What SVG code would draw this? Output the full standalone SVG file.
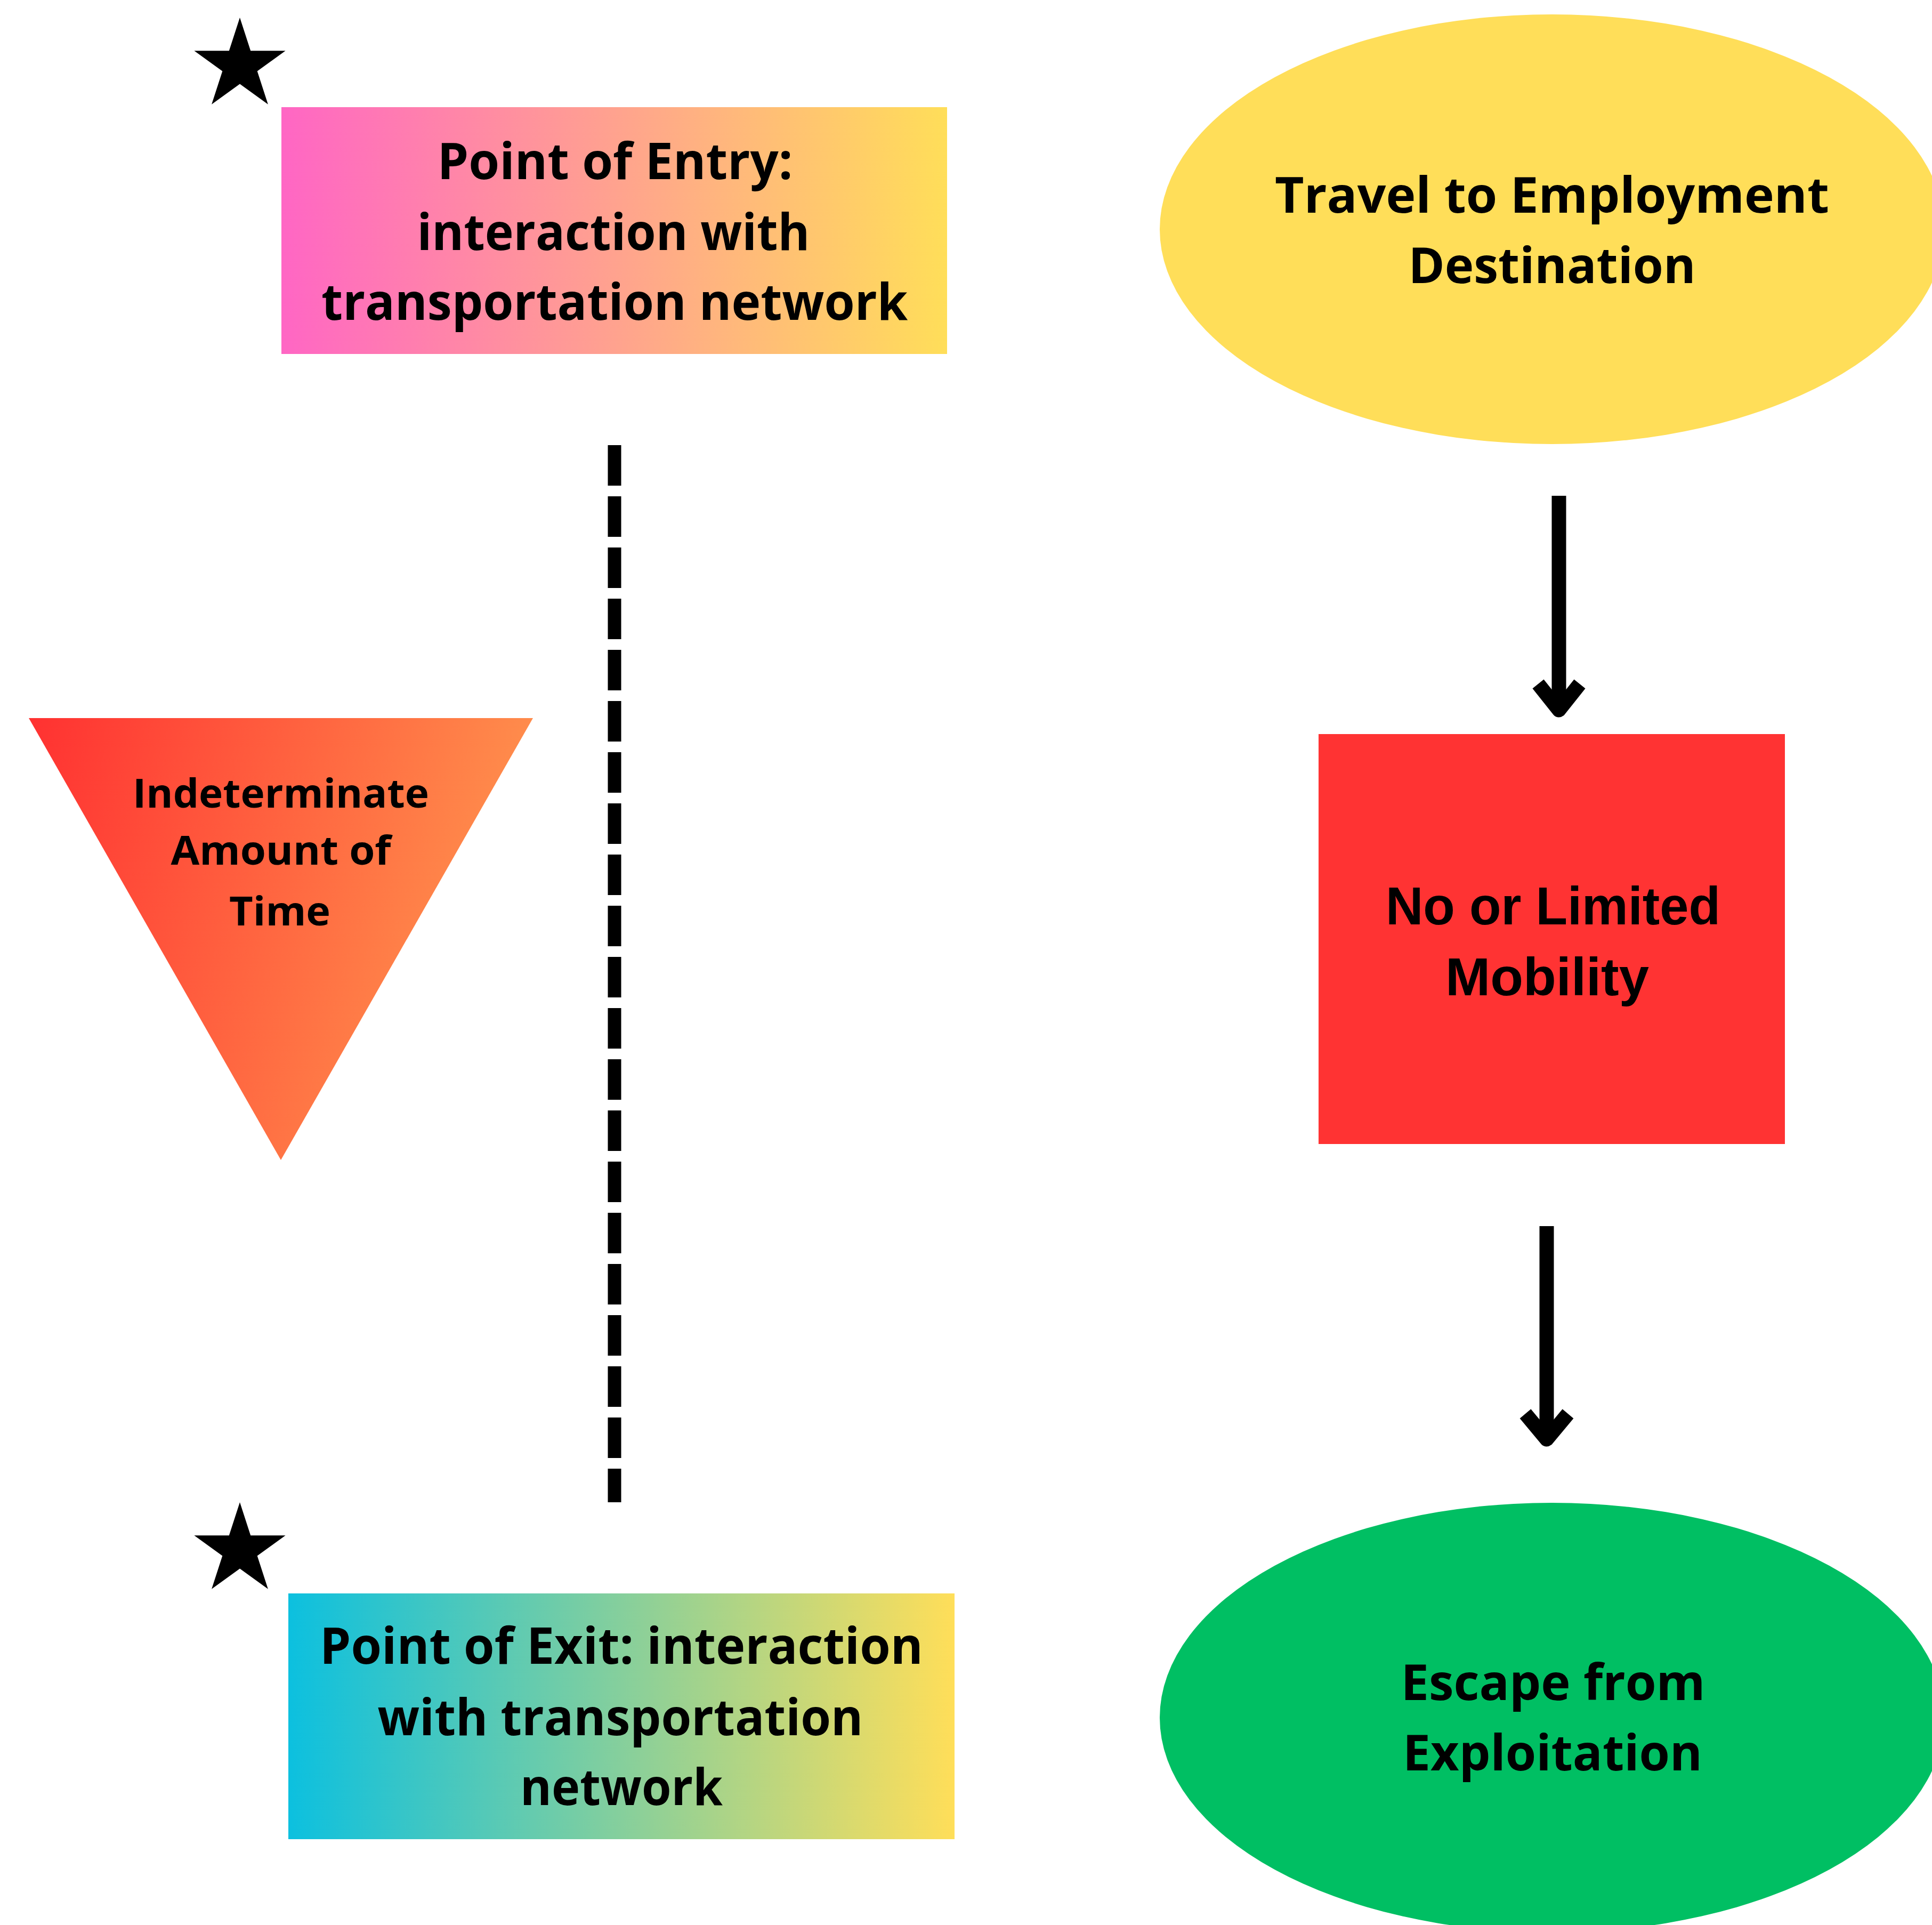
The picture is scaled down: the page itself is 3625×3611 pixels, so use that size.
<svg xmlns="http://www.w3.org/2000/svg" width="3625" height="3611" viewBox="0 0 3625 3611">
  <defs>
    <linearGradient id="gPink" x1="0" y1="0" x2="1" y2="0">
      <stop offset="0" stop-color="#FF66C4"/>
      <stop offset="1" stop-color="#FFDE59"/>
    </linearGradient>
    <linearGradient id="gCyan" x1="0" y1="0" x2="1" y2="0">
      <stop offset="0" stop-color="#0CC0DF"/>
      <stop offset="1" stop-color="#FFDE59"/>
    </linearGradient>
    <linearGradient id="gTri" x1="0" y1="0" x2="1" y2="0.25">
      <stop offset="0" stop-color="#FF3131"/>
      <stop offset="1" stop-color="#FF914D"/>
    </linearGradient>
    <path id="star" d="M0,-90 L20.2,-27.8 L85.6,-27.8 L32.7,10.6 L52.9,72.8 L0,34.4 L-52.9,72.8 L-32.7,10.6 L-85.6,-27.8 L-20.2,-27.8 Z" fill="#000"/>
  </defs>
  <style>
    .t { font-family: "Open Sans", "Liberation Sans", sans-serif; font-weight: 700; fill: #000; text-anchor: middle; }
    .w { font-family: "Liberation Sans", "Arial", sans-serif; font-weight: 700; fill: #000; text-anchor: middle; }
    .dash { stroke: #000; stroke-width: 25; stroke-dasharray: 76 20; fill: none; }
    .arrow { stroke: #000; stroke-width: 27; fill: none; }
  </style>
  <rect width="3625" height="3611" fill="#fff"/>

  <g id="star-entry"><use href="#star" transform="translate(450,123)"/></g>
  <g id="star-exit"><use href="#star" transform="translate(450,2908)"/></g>

  <g id="node-entry">
    <rect x="528" y="201" width="1249" height="463" fill="url(#gPink)"/>
    <text class="t" x="1154" y="336" font-size="95" textLength="667" lengthAdjust="spacingAndGlyphs">Point of Entry:</text>
    <text class="t" x="1151" y="469" font-size="95" textLength="737" lengthAdjust="spacingAndGlyphs">interaction with</text>
    <text class="t" x="1153" y="600" font-size="95" textLength="1100" lengthAdjust="spacingAndGlyphs">transportation network</text>
  </g>

  <g id="node-travel">
    <ellipse cx="2912" cy="430" rx="736" ry="403" fill="#FFDE59"/>
    <text class="t" x="2912" y="399" font-size="94" textLength="1040" lengthAdjust="spacingAndGlyphs">Travel to Employment</text>
    <text class="t" x="2912" y="531" font-size="94" textLength="539" lengthAdjust="spacingAndGlyphs">Destination</text>
  </g>

  <g id="node-time">
    <polygon points="54,1347 1000,1347 527,2176" fill="url(#gTri)"/>
    <text class="t" x="527" y="1515" font-size="76" textLength="556" lengthAdjust="spacingAndGlyphs">Indeterminate</text>
    <text class="t" x="527" y="1622" font-size="76" textLength="413" lengthAdjust="spacingAndGlyphs">Amount of</text>
    <text class="t" x="525" y="1736" font-size="76" textLength="190" lengthAdjust="spacingAndGlyphs">Time</text>
  </g>

  <g id="node-mobility">
    <rect x="2474" y="1377" width="875" height="769" fill="#FF3333"/>
    <text class="w" x="2914" y="1734" font-size="100" textLength="628" lengthAdjust="spacingAndGlyphs">No or Limited</text>
    <text class="w" x="2903" y="1867" font-size="100" textLength="382" lengthAdjust="spacingAndGlyphs">Mobility</text>
  </g>

  <g id="node-exit">
    <rect x="541" y="2989" width="1250" height="461" fill="url(#gCyan)"/>
    <text class="t" x="1166" y="3121" font-size="95" textLength="1132" lengthAdjust="spacingAndGlyphs">Point of Exit: interaction</text>
    <text class="t" x="1164" y="3255" font-size="95" textLength="911" lengthAdjust="spacingAndGlyphs">with transportation</text>
    <text class="t" x="1166" y="3386" font-size="95" textLength="380" lengthAdjust="spacingAndGlyphs">network</text>
  </g>

  <g id="node-escape">
    <ellipse cx="2912" cy="3222" rx="736" ry="403" fill="#00BF63"/>
    <text class="t" x="2914" y="3189" font-size="94" textLength="571" lengthAdjust="spacingAndGlyphs">Escape from</text>
    <text class="t" x="2913" y="3321" font-size="94" textLength="562" lengthAdjust="spacingAndGlyphs">Exploitation</text>
  </g>

  <g id="connectors">
    <line class="dash" x1="1153" y1="835" x2="1153" y2="2818"/>
    <line class="arrow" x1="2925" y1="930" x2="2925" y2="1330"/>
    <polyline class="arrow" points="2886,1283 2925,1332 2964,1283" stroke-linejoin="round"/>
    <line class="arrow" x1="2902" y1="2300" x2="2902" y2="2698"/>
    <polyline class="arrow" points="2862,2652 2902,2700 2942,2652" stroke-linejoin="round"/>
  </g>
</svg>
